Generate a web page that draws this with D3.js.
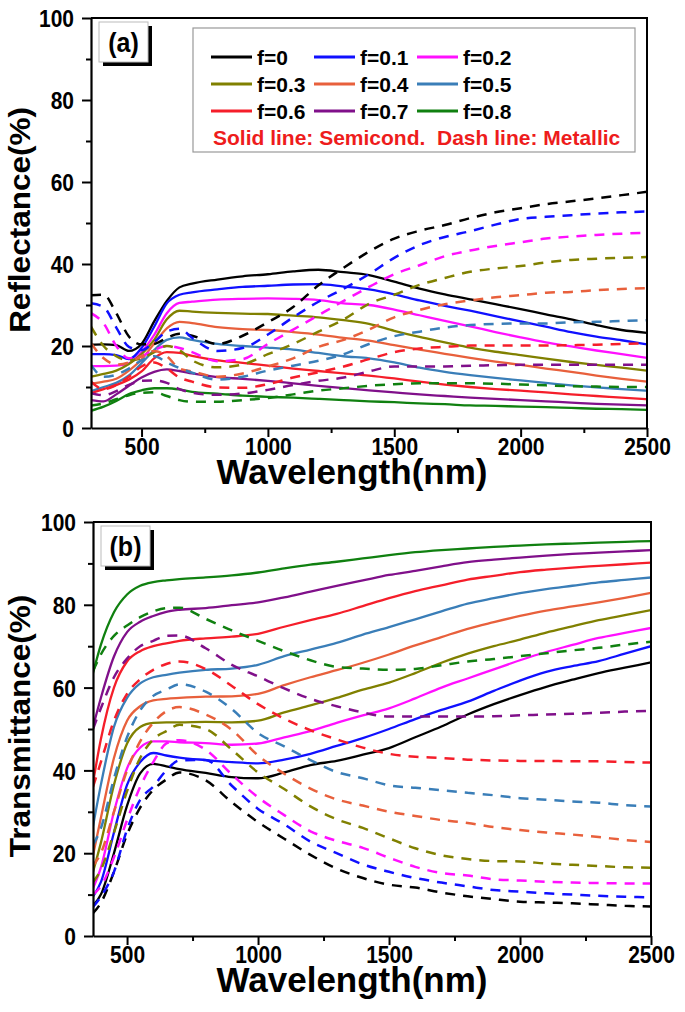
<!DOCTYPE html>
<html><head><meta charset="utf-8">
<script src="https://cdn.jsdelivr.net/npm/d3@7/dist/d3.min.js"></script>
<style>
body{margin:0;background:#fff}
text{font-family:"Liberation Sans",Arial,Helvetica,sans-serif;font-weight:bold}
</style>
</head><body>
<svg id="chart" width="685" height="1012"></svg>
<script>
// ---------------- DATA ----------------
const fractionLabels = ["f=0","f=0.1","f=0.2","f=0.3","f=0.4","f=0.5","f=0.6","f=0.7","f=0.8"];
const seriesColors = ["#000000","#1010ff","#ff10ff","#808000","#e8603c","#3a7eb8","#f51e2a","#80108a","#108010"];

const xTickValues = [500,1000,1500,2000,2500];
const xMinorTicks = [750,1250,1750,2250];
const yTickValues = [0,20,40,60,80,100];
const yMinorTicks = [10,30,50,70,90];

// Panel (a): Reflectance vs wavelength
const wlA = [300,350,400,450,500,550,600,650,700,800,900,1000,1100,1200,1300,1400,1500,1600,1700,1800,1900,2000,2100,2200,2300,2400,2500];
const reflSemicond = [
  [20.3,20.4,20.2,18.8,20.5,26,31,34.3,35.2,36.2,37,37.5,38.2,38.6,38,37.3,35.7,34,32.6,31.4,30.2,29,27.7,26.5,25.1,23.9,23.2],
  [18,18,17.8,16.8,19.5,24.7,30.4,32.5,33.1,33.8,34.4,34.7,35,35.1,34.5,33.8,32.6,31.1,29.8,28.6,27.3,26,24.7,23.4,22.3,21.4,20.4],
  [15.1,15.1,15.2,15.8,18.5,22.7,28,30.5,30.8,31.3,31.5,31.6,31.5,31.2,30.4,30,28.9,27.5,26.1,24.8,23.4,22.1,20.9,19.9,18.9,18,17.1],
  [12.5,13.2,14,15.6,18,21.5,26.5,28.6,28.4,28.1,27.9,27.8,27.4,27,26.3,25.4,23.7,22.2,20.9,19.6,18.6,17.8,16.9,16.1,15.4,14.7,14],
  [10.8,11.3,12,14,16.7,20.6,24.3,25.9,25.6,24.6,24.1,23.9,23.4,22.8,22,21.3,20.2,19.1,18.1,17.1,16.2,15.4,14.5,13.7,12.8,12,11.3],
  [9,10,11,12.8,15.8,19,21.5,22.1,21.5,20.5,20,19.6,19.1,18.3,17.5,17,16,14.7,13.7,12.9,12.2,11.6,11,10.4,9.9,9.5,9.1],
  [8.5,9.5,10.5,11.8,13.8,17,18.5,18.3,17.6,16.5,15.9,15.2,14.5,13.9,13.3,12.8,12.1,11.3,10.6,10,9.5,9.1,8.7,8.2,7.8,7.4,7],
  [6.8,6.5,8.2,10.3,12.3,13.7,14.3,13.9,13.3,12.4,12,11.5,10.9,10.3,9.7,9.2,8.7,8.2,7.8,7.4,7.1,6.8,6.5,6.2,5.9,5.7,5.5],
  [4.2,5.2,6.6,8.3,9.2,9.7,9.7,9.4,8.8,8.4,7.9,7.6,7.4,7.1,6.8,6.5,6.3,6,5.8,5.5,5.4,5.2,5.1,4.9,4.7,4.6,4.4]
];
const reflMetallic = [
  [32.4,32.5,28,22.3,20.4,20.5,22,23,22.5,20.5,22.5,25.8,29.5,34.8,39.1,43,46.2,48.1,49.5,51.2,52.6,53.6,54.6,55.3,56,56.8,57.6],
  [30.4,29.5,24.5,19.8,19,21,23.5,24.2,22,18.8,19.5,22.8,27,30.8,34,37.5,41.5,44.6,46.6,48,49.6,51,51.5,51.9,52.3,52.6,52.8],
  [28,25.5,20,17,17.5,19,20,19.5,18.5,16.3,16.8,20.5,24,27.5,31,34.4,37.5,39.7,41.9,43.3,44.4,45.3,46.2,46.7,47.1,47.4,47.6],
  [24.7,20,17.5,16.5,17,18.5,20,19,16.5,14.8,15.5,18,20.5,23.5,26.5,30.3,32.5,34.9,36.6,38.1,38.9,39.5,40.4,41,41.3,41.5,41.7],
  [20.7,17,15.5,16,17.5,18.8,17.5,14.5,13.8,12.5,13.3,15,17,19.8,21.5,24,27,28.8,30.2,31.1,31.9,32.4,33,33.2,33.6,33.9,34.1],
  [15.4,12.5,13,14.5,16.5,17.5,16,14.6,13.5,11.8,12.5,14,15.2,16.4,18,20.5,22.4,23.5,24.5,25.1,25.4,25.5,25.5,25.8,25.9,26.1,26.3],
  [11.3,9.5,10.5,12.5,15,16,14.5,12.3,11.3,9.9,9.8,10.7,12.3,13.6,15,16.8,18.5,19.4,19.8,20.1,20.1,20.1,20.1,20.2,20.3,20.5,20.7],
  [8.5,8,9,10.5,11.5,11.6,11,9.5,8.6,8.1,8.4,9.3,10.5,11.5,12.3,13.8,15,15,15,15.2,15.3,15.4,15.4,15.4,15.4,15.4,15.4],
  [5.5,6,7,8,8.6,8.7,7.8,6.8,6.4,6.4,6.8,7.3,8.2,9.1,9.7,10.3,10.7,10.9,10.9,10.9,10.8,10.6,10.4,10.2,10.1,10,10]
];

// Panel (b): Transmittance vs wavelength
const wlB = [370,400,450,500,550,600,650,700,800,900,1000,1100,1200,1300,1400,1500,1600,1700,1800,1900,2000,2100,2200,2300,2400,2500];
const transSemicond = [
  [7.3,10,20,31.5,39.3,41.6,41,40.3,39.4,38.4,38.1,39.5,41.3,42.3,43.8,45.4,48,50.6,53.5,56,58.2,60.2,61.9,63.5,64.8,66.1],
  [9.5,13,25,36.5,42,44.2,43.6,43.1,42.5,42,41.7,42.6,44,45.9,47.8,50,52.4,54.6,56.6,59.2,61.7,63.8,65.2,66.4,68.2,70],
  [11.5,16.5,30,40.5,45.5,47,47,46.8,46.6,46.2,46.5,48,49.5,51.5,53.3,55,57.4,60,62.2,64.4,66.6,68.6,70.3,72,73.2,74.4],
  [15.5,22.5,36.5,46.5,50.5,51.5,51.6,51.6,51.7,51.6,52,54,55.7,57.5,59.5,61.2,63.5,66,68.2,70,71.6,73.3,74.8,76.3,77.5,78.7],
  [19.5,28.5,43,52,55.5,56.9,57.3,57.5,57.8,57.9,58.5,60.6,62.5,64.2,66,68,70.2,72.2,74.2,75.8,77.3,78.6,79.6,80.6,81.7,82.9],
  [26.5,36.5,50.5,57.5,61,62.5,63.1,63.6,64.3,64.6,65.5,67.6,69.2,70.8,72.8,74.6,76.5,78.4,80.3,81.6,82.8,83.8,84.6,85.4,86,86.6],
  [37,47.5,60,66.3,68.8,70,70.7,71.3,71.9,72.3,73,74.7,76.3,77.8,79.7,81.6,83.3,84.7,86.1,87,87.9,88.5,89,89.4,89.8,90.2],
  [50.5,57.5,67.5,73.4,75.9,77.3,78.3,78.8,79.2,79.9,80.6,81.8,83.2,84.6,85.9,87.2,88.2,89.3,90.3,90.9,91.4,91.9,92.3,92.6,92.9,93.2],
  [63.5,70.3,78.2,82.5,84.6,85.5,85.9,86.2,86.6,87.1,87.8,88.8,89.7,90.4,91.2,92,92.7,93.2,93.6,94,94.3,94.6,94.8,95,95.2,95.4]
];
const transMetallic = [
  [5.5,8,15.5,24.5,31,35.3,37.8,39.5,37.6,32.3,27.5,23.5,19.6,16.3,14,12.4,11.7,10.5,9.6,8.9,8.3,8.1,7.9,7.6,7.3,7.1],
  [7,9.5,15.5,25.7,32.9,36.1,40,42.4,42.5,36.3,30.7,27,22.8,20,17.3,15.5,14,12.9,12,11.1,10.7,10.3,10,9.7,9.5,9.3],
  [10,12,19,28,36,42,46.5,47.3,45,39,33.5,29.2,25.3,23,21.3,18.9,16.7,15.2,14.6,13.7,13.4,13.1,12.9,12.8,12.7,12.7],
  [13,16,25,35,43,47.5,49.5,51,50,45,39.5,35.5,31.3,28.2,26.1,23.6,21.2,19.5,18.6,18.1,18,17.5,17.2,16.9,16.6,16.5],
  [17,20,30,40,47,51.5,54.3,55.3,53.5,49.8,43.6,39.2,35.6,33,31.5,30,29,28,27.3,26.3,25.6,25,24.5,23.9,23.2,22.7],
  [22,26,38,48,54.5,58,59.5,60.8,59,54.8,49,45.8,42.5,39.6,38.1,36.4,35.8,35.2,34.6,34,33.3,32.9,32.5,32.2,31.6,31.3],
  [36,42,52,58.5,62,64.3,65.7,66.3,64.5,60.4,56,52.5,49.7,47.5,45.5,44,43.3,43,42.6,42.4,42.3,42.3,42.2,42.2,42,41.9],
  [50,55,62.5,67,70,71.3,72.5,72.6,69.5,65.5,62.7,59.8,57.3,55.5,54,53,53,53,53,53.1,53.3,53.5,53.7,53.9,54.2,54.4],
  [64,68,72.5,75,77,78.4,79.2,79.3,76.6,73.8,71.3,68.8,66.6,65,64.6,64.3,64.5,65.4,66.3,66.9,67.6,68.3,69,69.6,70.4,71.1]
];

// ---------------- DRAWING ----------------
const svg = d3.select("#chart");
const TICK_FONT = 21, STRETCH = 1.15;

function drawPanel(cfg) {
  const x = d3.scaleLinear().domain(cfg.xDomain).range([cfg.left, cfg.right]);
  const y = d3.scaleLinear().domain([0,100]).range([cfg.bottom, cfg.top]);
  const g = svg.append("g");

  const clipId = "clip" + cfg.id;
  svg.append("clipPath").attr("id", clipId).append("rect")
    .attr("x", cfg.left).attr("y", cfg.top)
    .attr("width", cfg.right - cfg.left).attr("height", cfg.bottom - cfg.top);

  const line = d3.line().curve(d3.curveMonotoneX)
    .x(d => x(d[0])).y(d => y(d[1]));

  const lines = g.append("g").attr("clip-path", `url(#${clipId})`);
  cfg.solid.forEach((vals, i) => {
    lines.append("path").datum(cfg.wl.map((w, k) => [w, vals[k]]))
      .attr("d", line).attr("fill", "none")
      .attr("stroke", seriesColors[i]).attr("stroke-width", 2.3);
  });
  cfg.dashed.forEach((vals, i) => {
    lines.append("path").datum(cfg.wl.map((w, k) => [w, vals[k]]))
      .attr("d", line).attr("fill", "none")
      .attr("stroke", seriesColors[i]).attr("stroke-width", 2.5)
      .attr("stroke-dasharray", "10,8");
  });

  // frame (top/right)
  g.append("path")
    .attr("d", `M${cfg.left},${cfg.top}H${cfg.right}V${cfg.bottom}`)
    .attr("fill","none").attr("stroke","#000").attr("stroke-width",2);

  // x axis
  g.append("g").attr("class","xax").attr("transform", `translate(0,${cfg.bottom})`)
    .call(d3.axisBottom(x).tickValues(xTickValues).tickSize(9).tickSizeOuter(0).tickFormat(d3.format("d")));
  g.append("g").attr("transform", `translate(0,${cfg.bottom})`)
    .call(d3.axisBottom(x).tickValues(xMinorTicks).tickSize(5).tickSizeOuter(0).tickFormat(""))
    .call(a => a.select(".domain").remove());
  // y axis
  g.append("g").attr("class","yax").attr("transform", `translate(${cfg.left},0)`)
    .call(d3.axisLeft(y).tickValues(yTickValues).tickSize(9).tickSizeOuter(0));
  g.append("g").attr("transform", `translate(${cfg.left},0)`)
    .call(d3.axisLeft(y).tickValues(yMinorTicks).tickSize(5).tickSizeOuter(0).tickFormat(""))
    .call(a => a.select(".domain").remove());

  g.selectAll(".domain").attr("stroke","#000").attr("stroke-width",2.2);
  g.selectAll(".tick line").attr("stroke","#000").attr("stroke-width",2);
  g.selectAll(".tick text").attr("fill","#000")
    .style("font-size", TICK_FONT + "px").style("font-family",'"Liberation Sans",Arial,sans-serif').style("font-weight","bold");
  // vertically stretched tick labels (as in the reference)
  g.selectAll(".xax .tick text").attr("y", 0).attr("dy", null)
    .attr("transform", `translate(0,27) scale(1,${STRETCH})`);
  g.selectAll(".yax .tick text").attr("x", 0).attr("dy", "0.36em")
    .attr("transform", `translate(-17,0) scale(1,${STRETCH})`);

  // axis titles
  g.append("text").attr("x", 352).attr("y", cfg.bottom + 56)
    .attr("text-anchor","middle").style("font-size","35px").text("Wavelength(nm)");
  g.append("text")
    .attr("transform", `translate(30,${(cfg.top + cfg.bottom) / 2 - 3}) rotate(-90) scale(1.05,1)`)
    .attr("text-anchor","middle").style("font-size","30px").text(cfg.yTitle);

  // panel tag box
  const bx = cfg.left + 8, by = cfg.top + 4, bw = 49, bh = 40;
  g.append("rect").attr("x", bx + 4).attr("y", by + 4).attr("width", bw).attr("height", bh).attr("fill","#000");
  g.append("rect").attr("x", bx).attr("y", by).attr("width", bw).attr("height", bh)
    .attr("fill","#fff").attr("stroke","#bbb").attr("stroke-width",1);
  g.append("text").attr("transform", `translate(${bx + bw / 2},${by + bh / 2 + 10}) scale(1,1.1)`)
    .attr("text-anchor","middle").style("font-size","25px").text(cfg.tag);

  return {x, y};
}

drawPanel({id:"a", xDomain:[300,2500], left:91, right:647, top:18, bottom:428,
  wl: wlA, solid: reflSemicond, dashed: reflMetallic, yTitle:"Reflectance(%)", tag:"(a)"});
drawPanel({id:"b", xDomain:[370,2500], left:93, right:651, top:522, bottom:936,
  wl: wlB, solid: transSemicond, dashed: transMetallic, yTitle:"Transmittance(%)", tag:"(b)"});

// legend (panel a)
const lg = svg.append("g");
lg.append("rect").attr("x",193).attr("y",28).attr("width",442).attr("height",124)
  .attr("fill","#fff").attr("stroke","#999").attr("stroke-width",1.2);
const colX = [211, 314, 417];
const rowY = [57, 84, 111];
fractionLabels.forEach((lab, i) => {
  const cx = colX[i % 3], cy = rowY[Math.floor(i / 3)];
  lg.append("line").attr("x1", cx).attr("x2", cx + 41).attr("y1", cy).attr("y2", cy)
    .attr("stroke", seriesColors[i]).attr("stroke-width", 3);
  lg.append("text").attr("x", cx + 46).attr("y", cy + 7.5).style("font-size","21px").text(lab);
});
lg.append("text").attr("x",213).attr("y",145).attr("fill","#ee1c1c").style("font-size","21px")
  .attr("xml:space","preserve").style("white-space","pre")
  .text("Solid line: Semicond.  Dash line: Metallic");
</script>
</body></html>
